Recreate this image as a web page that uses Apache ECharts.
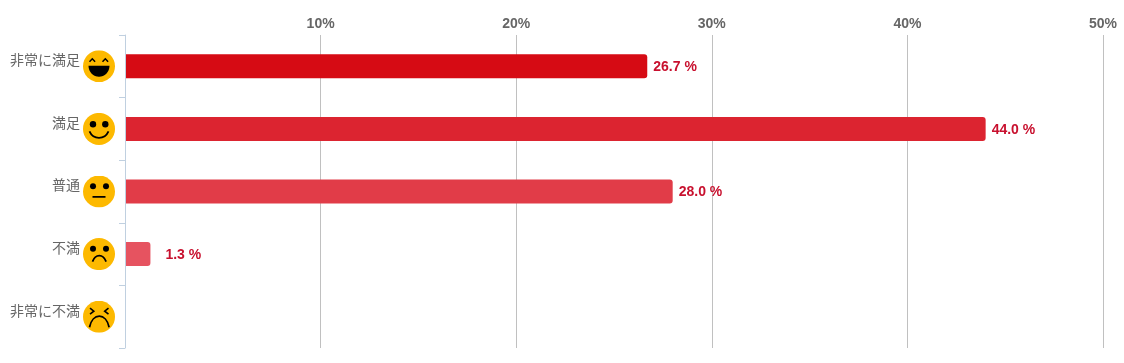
<!DOCTYPE html>
<html><head><meta charset="utf-8">
<style>html,body{margin:0;padding:0;background:#fff}#c{width:1124px;height:363px}</style>
<script src="https://cdn.jsdelivr.net/npm/echarts@6/dist/echarts.min.js"></script>
</head><body><div id="c"></div>
<script>
const categories = ['非常に満足','満足','普通','不満','非常に不満'];
const values = [26.7,44.0,28.0,1.3,null];
const barColors = ['#d60b14','#dc2430','#e13c48','#e65360','#ea6a75'];
const tickValues = [0,10,20,30,40,50];
const faces = [
 '<path d="M6.500 11.500l2.800-3 2.800 3M19.500 11.500l2.800-3 2.800 3" fill="none" stroke="#000" stroke-width="1.500"/><path d="M5.500 15.500h21c0 6.500-5 11-10.500 11s-10.500-4.500-10.500-11z" fill="#000"/>',
 '<circle cx="10" cy="11.300" r="3.200" fill="#000"/><circle cx="22.300" cy="11.300" r="3.200" fill="#000"/><path d="M6.500 18.500c2 4.500 5.500 6.500 9.500 6.500s7.500-2 9.500-6.500" fill="none" stroke="#000" stroke-width="1.800"/>',
 '<circle cx="10" cy="10.700" r="3" fill="#000"/><circle cx="23" cy="10.700" r="3" fill="#000"/><path d="M9.500 21.300h13" stroke="#000" stroke-width="1.800"/>',
 '<circle cx="10" cy="10.700" r="3" fill="#000"/><circle cx="23" cy="10.700" r="3" fill="#000"/><path d="M9.500 23.500c1.500-4 4-6 6.800-6s5.300 2 6.800 6" fill="none" stroke="#000" stroke-width="1.800"/>',
 '<path d="M7 7.500l3.800 3-3.800 3M25.500 7.500l-3.800 3 3.800 3" fill="none" stroke="#000" stroke-width="1.600"/><path d="M6.500 26.500c1.500-7 5.500-11 9.800-11s8.300 4 9.800 11" fill="none" stroke="#000" stroke-width="1.800"/>'
];
const faceUri = b => 'data:image/svg+xml;charset=utf-8,' + encodeURIComponent(
 '<svg xmlns="http://www.w3.org/2000/svg" width="32" height="32" viewBox="0 0 32 32"><circle cx="16" cy="16" r="16" fill="#fdb900"/>' + b + '</svg>');
const rich = { t:{color:'#666',fontSize:14,fontFamily:'"Noto Sans CJK JP",sans-serif',padding:[0,3,13,0]} };
faces.forEach((b,i)=>{ rich['f'+i] = {width:32,height:32,backgroundColor:{image:faceUri(b)}}; });
const chart = echarts.init(document.getElementById('c'),null,{renderer:'canvas'});
chart.setOption({
 animation:false,
 backgroundColor:'#fff',
 grid:{left:125,right:21,top:35,bottom:15},
 xAxis:{type:'value',position:'top',min:tickValues[0],max:tickValues[tickValues.length-1],interval:10,
  axisLine:{show:false},axisTick:{show:false},
  splitLine:{show:true,showMinLine:false,lineStyle:{color:'#c0c0c0',width:1}},
  axisLabel:{margin:4,color:'#666',fontSize:14,fontWeight:'bold',fontFamily:'"Liberation Sans",Arial,sans-serif',
   formatter:v=>v===0?'':v+'%'}},
 yAxis:{type:'category',inverse:true,data:categories,z:5,
  axisLine:{show:true,lineStyle:{color:'#c0d0e0',width:1}},
  axisTick:{show:true,length:6,alignWithLabel:false,lineStyle:{color:'#c0d0e0'}},
  axisLabel:{margin:10,rich,formatter:(v,i)=>`{t|${v}}{f${i}|}`}},
 series:[{type:'bar',barWidth:24,
  data:values.map((v,i)=>({value:v,itemStyle:{color:barColors[i]},
    label:{distance:v<5?15:6}})),
  itemStyle:{borderRadius:[0,3,3,0]},
  label:{show:true,position:'right',offset:[0,1],color:'#c8102e',fontSize:14,fontWeight:'bold',fontFamily:'"Liberation Sans",Arial,sans-serif',
   formatter:p=>p.value==null?'':p.value.toFixed(1)+' %'}}]
});
</script></body></html>
